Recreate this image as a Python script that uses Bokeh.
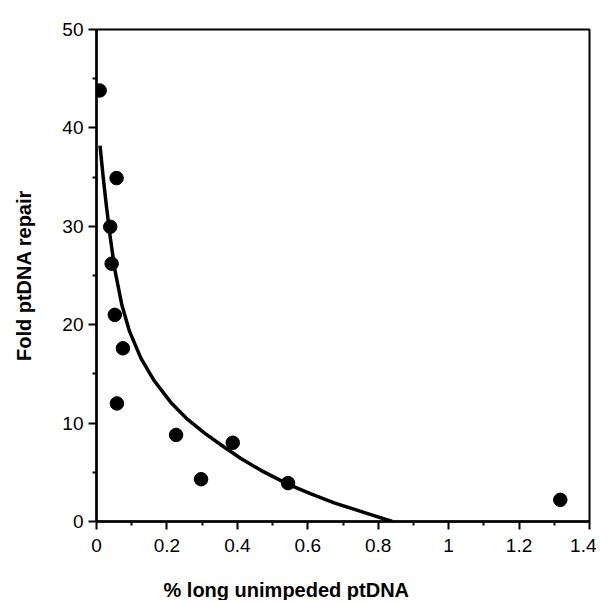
from bokeh.plotting import figure
from bokeh.models import FixedTicker, CustomJSTickFormatter, Range1d, Title
from bokeh.embed import file_html
from bokeh.resources import INLINE

# Data points
pt_x = [0.009, 0.057, 0.039, 0.043, 0.052, 0.075, 0.058, 0.226, 0.297, 0.387, 0.544, 1.317]
pt_y = [43.8, 34.9, 29.95, 26.2, 21.0, 17.6, 12.0, 8.8, 4.3, 8.0, 3.9, 2.2]

# Fitted curve, points
fit_x = [0.010, 0.019, 0.028, 0.039, 0.052, 0.072, 0.093, 0.126, 0.164, 0.211,
         0.258, 0.306, 0.353, 0.410, 0.467, 0.543, 0.609, 0.675, 0.770, 0.840]
fit_y = [38.2, 35.0, 32.1, 28.9, 25.6, 22.0, 19.4, 16.6, 14.3, 12.1,
         10.4, 9.0, 7.8, 6.4, 5.2, 3.8, 2.8, 1.9, 0.8, 0.0]

x_ticks = [0, 0.2, 0.4, 0.6, 0.8, 1.0, 1.2, 1.4]
x_minor = [0.1, 0.3, 0.5, 0.7, 0.9, 1.1, 1.3]
y_ticks = [0, 10, 20, 30, 40, 50]
y_minor = [5, 15, 25, 35, 45]

x_title = "% long unimpeded ptDNA"
y_title = "Fold ptDNA repair"

FONT = "Liberation Sans"

p = figure(width=596, height=600, output_backend="svg", toolbar_location=None,
           x_range=Range1d(0, 1.4), y_range=Range1d(0, 50),
           min_border_left=96, min_border_right=7, min_border_top=29, min_border_bottom=78)

p.grid.visible = False
p.background_fill_color = "white"
p.border_fill_color = "white"
p.outline_line_color = "black"
p.outline_line_width = 2
p.outline_line_alpha = 1

p.line(fit_x, fit_y, line_color="black", line_width=3.5, line_join="round")
p.scatter(pt_x, pt_y, size=13.5, fill_color="black", line_color="black")

p.xaxis.ticker = FixedTicker(ticks=x_ticks, minor_ticks=x_minor)
p.yaxis.ticker = FixedTicker(ticks=y_ticks, minor_ticks=y_minor)
fmt = CustomJSTickFormatter(code="return String(Math.round(tick*10)/10);")
p.xaxis.formatter = fmt
p.yaxis.formatter = fmt

for ax in (p.xaxis, p.yaxis):
    ax.axis_line_width = 2.5
    ax.axis_line_color = "black"
    ax.major_tick_line_width = 2
    ax.minor_tick_line_width = 2
    ax.major_tick_line_color = "black"
    ax.minor_tick_line_color = "black"
    ax.major_tick_out = 8
    ax.major_tick_in = 0
    ax.minor_tick_out = 4
    ax.minor_tick_in = 0
    ax.major_label_text_font = FONT
    ax.major_label_text_font_size = "19px"
    ax.major_label_text_color = "black"
    ax.axis_label_text_font = FONT
    ax.axis_label_text_font_size = "20px"
    ax.axis_label_text_font_style = "bold"
    ax.axis_label_text_color = "black"

p.yaxis.axis_label = y_title
p.xaxis.major_label_standoff = 9
p.yaxis.major_label_standoff = 5
p.yaxis.axis_label_standoff = 24

# spacer between tick labels and x title
spacer = Title(text="\u00a0", text_font_size="9px", standoff=10, text_color="white")
p.add_layout(spacer, "below")

# x-axis title, placed left of centre as in the reference
xt = Title(text=x_title, align="left", offset=67, standoff=0,
           text_font=FONT, text_font_size="20px", text_font_style="bold",
           text_color="black")
p.add_layout(xt, "below")

open("out.html", "w").write(file_html(p, INLINE))
